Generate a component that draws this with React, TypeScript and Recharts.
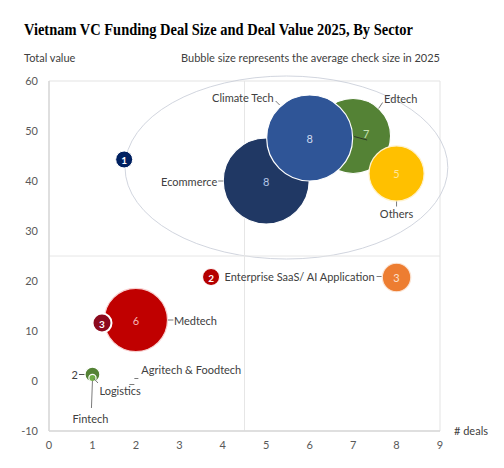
import {
  ScatterChart,
  Scatter,
  XAxis,
  YAxis,
  ZAxis,
  ReferenceLine,
  ReferenceArea,
} from "recharts";

// sectors
const sectors = [
  "Ecommerce",
  "Edtech",
  "Climate Tech",
  "Others",
  "Enterprise SaaS/ AI Application",
  "Medtech",
  "Logistics",
  "Fintech",
  "Agritech & Foodtech",
];
const dealCount = [5, 7, 6, 8, 8, 2, 1, 1, 1.85];
const totalValue = [40, 49, 48.6, 41.5, 20.7, 12.2, 1.3, 0.6, 0.3];
const avgCheckSize = [10, 7.6, 10, 4.1, 1.1, 5.4, 0.3, 0.07, 0];
const valueLabels = ["8", "7", "8", "5", "3", "6", "2", "", ""];

// numbered callouts
const markerLabels = ["1", "2", "3"];
const markerX = [1.73, 3.73, 1.22];
const markerY = [44.3, 20.8, 11.6];

// ellipse grouping the top cluster
const groupX = [1.75, 9.18];
const groupY = [24.4, 61.0];

const xTicks = [0, 1, 2, 3, 4, 5, 6, 7, 8, 9];
const yTicks = [-10, 0, 10, 20, 30, 40, 50, 60];

const bubbles = sectors.map((name, i) => ({
  name,
  x: dealCount[i],
  y: totalValue[i],
  z: avgCheckSize[i],
  label: valueLabels[i],
}));

const markers = markerLabels.map((label, i) => ({
  label,
  x: markerX[i],
  y: markerY[i],
}));

const FONT = "Lato, 'Open Sans', sans-serif";

const bubbleStyle: Record<string, { fill: string; text: string; stroke: string }> = {
  Ecommerce: { fill: "#203864", text: "#b4c7e7", stroke: "#ffffff" },
  Edtech: { fill: "#548235", text: "#c5e0b4", stroke: "#ffffff" },
  "Climate Tech": { fill: "#2f5597", text: "#d0dcf0", stroke: "#ffffff" },
  Others: { fill: "#ffc000", text: "#ffe699", stroke: "#fff2cc" },
  "Enterprise SaaS/ AI Application": { fill: "#ed7d31", text: "#fbe0cc", stroke: "#fbe5d6" },
  Medtech: { fill: "#c00000", text: "#f4b6b6", stroke: "#f8d0d0" },
  Logistics: { fill: "#548235", text: "#404040", stroke: "#ffffff" },
  Fintech: { fill: "#70ad47", text: "#404040", stroke: "#ffffff" },
  "Agritech & Foodtech": { fill: "#70ad47", text: "#404040", stroke: "#ffffff" },
};

type Layout = {
  dx: number;
  dy: number;
  anchor: "start" | "middle" | "end";
  lead: number[];
  vdx?: number;
  vdy?: number;
  vanchor?: "start" | "middle" | "end";
  vlead?: [number, number, number, number];
};

const labelLayout: Record<string, Layout> = {
  Ecommerce: { dx: -49, dy: 0, anchor: "end", lead: [-48, 0, -43, 0] },
  Edtech: {
    dx: 31, dy: -37.5, anchor: "start", lead: [29.5, -33.5, 25.5, -27.5],
    vdx: 13, vdy: -3, vanchor: "middle", vlead: [1, 0.5, 14, 4],
  },
  "Climate Tech": { dx: -36, dy: -41, anchor: "end", lead: [-34, -37, -30, -33] },
  Others: { dx: 0, dy: 40, anchor: "middle", lead: [0, 28, 0, 33] },
  "Enterprise SaaS/ AI Application": { dx: -22, dy: -1, anchor: "end", lead: [-20, -1, -15, -1] },
  Medtech: { dx: 38, dy: 0.5, anchor: "start", lead: [32, 0, 37.5, 0] },
  Logistics: {
    dx: 7, dy: 15.5, anchor: "start", lead: [1.5, 4, 5.5, 8.5],
    vdx: -14.5, vdy: 0, vanchor: "end", vlead: [-13.5, 0, -8, 0],
  },
  Fintech: { dx: -2, dy: 40, anchor: "middle", lead: [0, 3, -1, 30] },
  "Agritech & Foodtech": { dx: 12, dy: -10, anchor: "start", lead: [0, 5, 5, 5, 5, -1, 9, -1] },
};

const markerFill = ["#002060", "#b50000", "#8c0a1e"];

const BubbleShape = (props: any) => {
  const { cx, cy, width, payload } = props;
  const r = (width || 0) / 2;
  const st = bubbleStyle[payload.name];
  if (r < 0.5) return <g />;
  return (
    <circle cx={cx} cy={cy} r={r} fill={st.fill} stroke={st.stroke} strokeWidth={1.2} />
  );
};

const LabelShape = (props: any) => {
  const { cx, cy, payload } = props;
  const st = bubbleStyle[payload.name];
  const lay = labelLayout[payload.name];
  const segs = [];
  for (let k = 0; k + 3 < lay.lead.length; k += 4) {
    segs.push(
      <line
        key={k}
        x1={cx + lay.lead[k]}
        y1={cy + lay.lead[k + 1]}
        x2={cx + lay.lead[k + 2]}
        y2={cy + lay.lead[k + 3]}
        stroke="#595959"
        strokeWidth={0.8}
      />
    );
  }
  return (
    <g fontFamily={FONT}>
      {segs}
      <text
        x={cx + lay.dx}
        y={cy + lay.dy}
        textAnchor={lay.anchor}
        dominantBaseline="central"
        fontSize={11}
        fill="#404040"
      >
        {payload.name}
      </text>
      {payload.label && lay.vlead && (
        <line
          x1={cx + lay.vlead[0]}
          y1={cy + lay.vlead[1]}
          x2={cx + lay.vlead[2]}
          y2={cy + lay.vlead[3]}
          stroke="#262626"
          strokeWidth={0.8}
        />
      )}
      {payload.label && (
        <text
          x={cx + (lay.vdx ?? 0)}
          y={cy + (lay.vdy ?? 0)}
          textAnchor={lay.vanchor ?? "middle"}
          dominantBaseline="central"
          fontSize={11}
          fill={st.text}
        >
          {payload.label}
        </text>
      )}
    </g>
  );
};

const MarkerShape = (props: any) => {
  const { cx, cy } = props;
  const i = markerLabels.indexOf(props.payload.label);
  return (
    <g>
      <circle
        cx={cx}
        cy={cy}
        r={i === 2 ? 9.5 : 8.5}
        fill={markerFill[i]}
        stroke="#ffffff"
        strokeWidth={i === 2 ? 2 : 1}
      />
      <text
        x={cx}
        y={cy + 0.5}
        textAnchor="middle"
        dominantBaseline="central"
        fontSize={10}
        fontWeight="bold"
        fontFamily={FONT}
        fill="#ffffff"
      >
        {props.payload.label}
      </text>
    </g>
  );
};

const EllipseShape = (props: any) => {
  const { x, y, width, height } = props;
  return (
    <ellipse
      cx={x + width / 2}
      cy={y + height / 2}
      rx={Math.abs(width) / 2}
      ry={Math.abs(height) / 2}
      fill="none"
      stroke="#c5cad6"
      strokeWidth={0.8}
    />
  );
};

export default function App() {
  return (
    <div
      style={{
        position: "fixed",
        left: 0,
        top: 0,
        width: 504,
        height: 468,
        background: "#ffffff",
      }}
    >
      <ScatterChart
        width={504}
        height={468}
        margin={{ top: 81, right: 64, bottom: 7, left: 19 }}
      >
        <XAxis
          type="number"
          dataKey="x"
          domain={[0, 9]}
          ticks={xTicks}
          height={30}
          tick={{ fill: "#595959", fontSize: 11, fontFamily: FONT }}
          tickLine={false}
          tickMargin={4}
          axisLine={{ stroke: "#d9d9d9", strokeWidth: 1.5 }}
        />
        <YAxis
          type="number"
          dataKey="y"
          domain={[-10, 60]}
          ticks={yTicks}
          width={30}
          tick={{ fill: "#595959", fontSize: 11, fontFamily: FONT }}
          tickLine={false}
          tickMargin={5}
          axisLine={{ stroke: "#d9d9d9", strokeWidth: 1.5 }}
        />
        <ZAxis type="number" dataKey="z" domain={[0, 10]} range={[0, Math.PI * 43 * 43]} />
        <ReferenceArea
          x1={0}
          x2={9}
          y1={-10}
          y2={60}
          fill="none"
          stroke="#e3e3e3"
          strokeWidth={1}
          fillOpacity={0}
        />
        <ReferenceLine x={4.5} stroke="#e6e6e6" strokeWidth={1} />
        <ReferenceLine y={25} stroke="#e6e6e6" strokeWidth={1} />
        <ReferenceArea
          x1={groupX[0]}
          x2={groupX[1]}
          y1={groupY[0]}
          y2={groupY[1]}
          ifOverflow="visible"
          shape={EllipseShape}
        />
        <Scatter data={bubbles} shape={BubbleShape} isAnimationActive={false} />
        <Scatter data={bubbles} shape={LabelShape} isAnimationActive={false} />
        <Scatter data={markers} shape={MarkerShape} isAnimationActive={false} />
      </ScatterChart>
      <svg
        width={504}
        height={468}
        style={{ position: "absolute", left: 0, top: 0, pointerEvents: "none" }}
      >
        <text
          x={24}
          y={35}
          fontFamily="'Liberation Serif', 'DejaVu Serif', serif"
          fontWeight="bold"
          fontSize={16}
          textLength={389}
          lengthAdjust="spacingAndGlyphs"
          fill="#000000"
        >
          Vietnam VC Funding Deal Size and Deal Value 2025, By Sector
        </text>
        <text x={24} y={61.5} fontFamily={FONT} fontSize={11} fill="#404040">
          Total value
        </text>
        <text x={440} y={62} textAnchor="end" fontFamily={FONT} fontSize={11} fill="#404040">
          Bubble size represents the average check size in 2025
        </text>
        <text x={454} y={435} fontFamily={FONT} fontSize={11} fill="#404040">
          # deals
        </text>
      </svg>
    </div>
  );
}
